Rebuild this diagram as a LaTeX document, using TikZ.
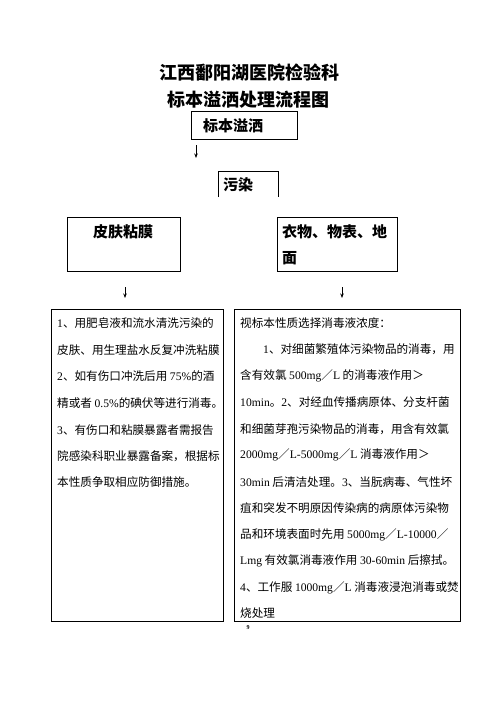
\documentclass[tikz,border=0pt]{standalone}
\usepackage{fontspec}
\setmainfont{Noto Sans CJK SC}
\newfontfamily\ls{Liberation Serif}
\usetikzlibrary{arrows.meta}
\newcommand{\lt}[1]{{\ls #1}}
\begin{document}
\begin{tikzpicture}[x=1pt,y=-1pt,
  box/.style={draw,line width=0.8pt,inner sep=0pt,anchor=north west},
  ttl/.style={font=\fontsize{18}{18}\selectfont\bfseries,inner sep=0pt},
  hd/.style={font=\fontsize{15}{15}\selectfont\bfseries,inner sep=0pt,anchor=west},
  body/.style={font=\fontsize{11.6}{11.6}\selectfont,inner sep=0pt,anchor=west},
  arr/.style={line width=0.7pt,-{Stealth[length=4.5pt,width=3.5pt]}}]
\useasboundingbox (0,0) rectangle (496,702);
% titles
\node[ttl] (t1) at (249,73) {江西鄱阳湖医院检验科};
\node[ttl] (t2) at (248,100) {标本溢洒处理流程图};
% box 1
\node[box,minimum width=106pt,minimum height=28pt] (b1) at (191,111) {};
\node[hd] (b1t) at (203,126) {标本溢洒};
\coordinate (a1s) at (196,145);
\coordinate (a1e) at (196,158);
\draw[arr] (a1s) -- (a1e);
% box 2 (open bottom)
\draw[line width=0.8pt] (218,197) -- (218,171) -- (278,171) -- (278,197);
\node[hd] (b2t) at (223,185) {污染};
% box 3, 4
\node[box,minimum width=113pt,minimum height=54pt] (b3) at (67,217) {};
\node[hd] (b3t) at (93,232) {皮肤粘膜};
\node[box,minimum width=120pt,minimum height=54pt] (b4) at (277,217) {};
\node[hd] (b4t) at (282,232) {衣物、物表、地};
\node[hd] (b4u) at (282,258) {面};
\coordinate (a2s) at (125,287);
\coordinate (a2e) at (125,298);
\coordinate (a3s) at (342,287);
\coordinate (a3e) at (342,298);
\draw[arr] (a2s) -- (a2e);
\draw[arr] (a3s) -- (a3e);
% big boxes
\node[box,minimum width=172pt,minimum height=312pt] (b5) at (51,309) {};
\node[box,minimum width=226pt,minimum height=312pt] (b6) at (234,309) {};
% left text
\node[body] (l1) at (57,323) {\lt{1}、用肥皂液和流水清洗污染的};
\node[body] (l2) at (57,350) {皮肤、用生理盐水反复冲洗粘膜};
\node[body] (l3) at (57,376) {\lt{2}、如有伤口冲洗后用 \lt{75\%}的酒};
\node[body] (l4) at (57,403) {精或者 \lt{0.5\%}的碘伏等进行消毒。};
\node[body] (l5) at (57,430) {\lt{3}、有伤口和粘膜暴露者需报告};
\node[body] (l6) at (57,456) {院感染科职业暴露备案，根据标};
\node[body] (l7) at (57,482) {本性质争取相应防御措施。};
% right text
\node[body] (r1) at (240,323) {视标本性质选择消毒液浓度：};
\node[body] (r2) at (263,349) {\lt{1}、对细菌繁殖体污染物品的消毒，用};
\node[body] (r3) at (240,376) {含有效氯 \lt{500mg}／\lt{L} 的消毒液作用＞};
\node[body] (r4) at (240,402) {\lt{10min}。\lt{2}、对经血传播病原体、分支杆菌};
\node[body] (r5) at (240,429) {和细菌芽孢污染物品的消毒，用含有效氯};
\node[body] (r6) at (240,455) {\lt{2000mg}／\lt{L-5000mg}／\lt{L} 消毒液作用＞};
\node[body] (r7) at (240,482) {\lt{30min} 后清洁处理。\lt{3}、当朊病毒、气性坏};
\node[body] (r8) at (240,508) {疽和突发不明原因传染病的病原体污染物};
\node[body] (r9) at (240,535) {品和环境表面时先用 \lt{5000mg}／\lt{L-10000}／};
\node[body] (r10) at (240,561) {\lt{Lmg} 有效氯消毒液作用 \lt{30-60min} 后擦拭。};
\node[body] (r11) at (240,588) {\lt{4}、工作服 \lt{1000mg}／\lt{L} 消毒液浸泡消毒或焚};
\node[body] (r12) at (240,613) {烧处理};
\node[font=\fontsize{6}{6}\selectfont\bfseries,inner sep=0pt] (pg) at (248,628) {\lt{9}};
\end{tikzpicture}
\end{document}
